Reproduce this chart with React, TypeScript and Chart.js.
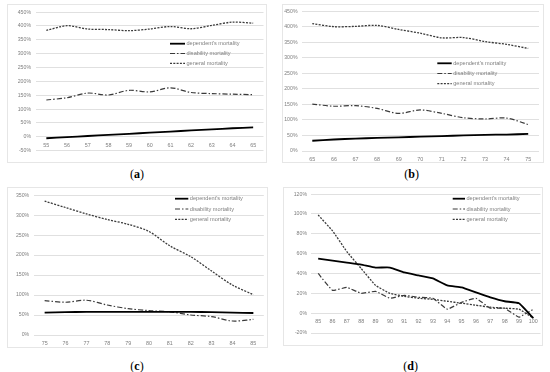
import React, { useEffect, useRef } from "react";
import { Chart, registerables } from "chart.js";

Chart.register(...registerables);

// ---- data ----
const agesA = ["55", "56", "57", "58", "59", "60", "61", "62", "63", "64", "65"];
const depA = [-5, -1, 3, 7, 11, 15, 19, 23, 27, 31, 34];
const disA = [133, 141, 158, 151, 168, 162, 177, 160, 156, 154, 152];
const genA = [384, 401, 389, 387, 383, 389, 398, 390, 402, 414, 410];

const agesB = ["65", "66", "67", "68", "69", "70", "71", "72", "73", "74", "75"];
const depB = [33, 37, 40, 42, 44, 46, 48, 50, 52, 53, 55];
const disB = [151, 144, 146, 137, 121, 132, 121, 107, 103, 106, 85];
const genB = [410, 400, 401, 404, 391, 379, 364, 365, 352, 343, 330];

const agesC = ["75", "76", "77", "78", "79", "80", "81", "82", "83", "84", "85"];
const depC = [56, 57, 58, 58, 58, 58, 58, 58, 57, 56, 55];
const disC = [86, 82, 87, 75, 66, 61, 58, 50, 46, 35, 39];
const genC = [335, 319, 303, 289, 277, 259, 223, 196, 160, 125, 101];

const agesD = ["85", "86", "87", "88", "89", "90", "91", "92", "93", "94", "95", "96", "97", "98", "99", "100"];
const depD = [55, 53, 51, 49, 46, 46, 41, 38, 35, 28, 26, 21, 16, 12, 10, -5];
const disD = [40, 23, 26, 20, 22, 15, 18, 16, 15, 4, 11, 15, 5, 5, -4, 4];
const genD = [99, 83, 62, 45, 28, 20, 17, 15, 14, 12, 10, 8, 6, 5, 4, -5];

const seriesNames = ["dependent's mortality", "disability mortality", "general mortality"];

const yRangeA = [-50, 450, 50];
const yRangeB = [0, 450, 50];
const yRangeC = [0, 350, 50];
const yRangeD = [-20, 120, 20];

const FONT = "Liberation Sans";
const TICK_COLOR = "#7f7f7f";
const GRID_COLOR = "#e0e0e0";

const insideLegend = {
  id: "insideLegend",
  afterDraw(chart: any, _args: any, opts: any) {
    const ctx = chart.ctx;
    chart.data.datasets.forEach((ds: any, i: number) => {
      const y = opts.y + i * opts.gap;
      ctx.save();
      ctx.strokeStyle = ds.borderColor;
      ctx.lineWidth = ds.borderWidth;
      ctx.setLineDash(ds.borderDash || []);
      ctx.beginPath();
      ctx.moveTo(opts.x, y);
      ctx.lineTo(opts.x + opts.len, y);
      ctx.stroke();
      ctx.setLineDash([]);
      ctx.fillStyle = TICK_COLOR;
      ctx.font = `5.6px "${FONT}"`;
      ctx.textBaseline = "middle";
      ctx.textAlign = "left";
      ctx.fillText(ds.label, opts.x + opts.len + 1.5, y);
      ctx.restore();
    });
  },
};

type PanelProps = {
  box: { x: number; y: number; w: number; h: number };
  plot: { l: number; r: number; t: number; b: number };
  labels: string[];
  dep: number[];
  dis: number[];
  gen: number[];
  yRange: number[];
  legend: { x: number; y: number; len: number; gap: number };
  tension: number;
  yPad: number;
};

function Panel(p: PanelProps) {
  const ref = useRef<HTMLCanvasElement>(null);
  useEffect(() => {
    if (!ref.current) return;
    const chart = new Chart(ref.current, {
      type: "line",
      data: {
        labels: p.labels,
        datasets: [
          {
            label: seriesNames[0],
            data: p.dep,
            borderColor: "#000000",
            borderWidth: 1.8,
            pointRadius: 0,
            tension: p.tension,
          },
          {
            label: seriesNames[1],
            data: p.dis,
            borderColor: "#3a3a3a",
            borderWidth: 1.2,
            borderDash: [5, 2, 1.5, 2],
            pointRadius: 0,
            tension: p.tension,
          },
          {
            label: seriesNames[2],
            data: p.gen,
            borderColor: "#3a3a3a",
            borderWidth: 1.3,
            borderDash: [2, 1.3],
            pointRadius: 0,
            tension: p.tension,
          },
        ],
      },
      options: {
        responsive: false,
        animation: false,
        devicePixelRatio: 1,
        layout: {
          padding: {
            left: 0,
            top: p.plot.t,
            right: p.box.w - p.plot.r,
            bottom: p.box.h - p.plot.b,
          },
        },
        plugins: {
          legend: { display: false },
          tooltip: { enabled: false },
          insideLegend: p.legend,
        } as any,
        scales: {
          x: {
            type: "category",
            offset: true,
            position: { y: 0 } as any,
            grid: { display: false, drawTicks: false },
            border: { display: false },
            ticks: {
              color: TICK_COLOR,
              font: { family: FONT, size: 5.4 },
              padding: 5,
              maxRotation: 0,
              autoSkip: false,
            },
          },
          y: {
            min: p.yRange[0],
            max: p.yRange[1],
            grid: { color: GRID_COLOR, drawTicks: false, lineWidth: 1 },
            border: { display: false },
            ticks: {
              stepSize: p.yRange[2],
              color: TICK_COLOR,
              font: { family: FONT, size: 5.2 },
              padding: p.yPad,
              callback: (v: any) => `${v}%`,
            },
            afterFit: (s: any) => {
              s.width = p.plot.l;
            },
          },
        },
      },
      plugins: [insideLegend as any],
    });
    return () => chart.destroy();
  }, []);
  return (
    <>
      <div
        style={{
          position: "absolute",
          left: p.box.x,
          top: p.box.y,
          width: p.box.w,
          height: p.box.h,
          border: "1px solid #e6e6e6",
          boxSizing: "border-box",
        }}
      />
      <canvas
        ref={ref}
        width={p.box.w}
        height={p.box.h}
        style={{ position: "absolute", left: p.box.x, top: p.box.y, width: p.box.w, height: p.box.h }}
      />
    </>
  );
}

function Caption({ x, y, letter }: { x: number; y: number; letter: string }) {
  return (
    <div
      style={{
        position: "absolute",
        left: x,
        top: y,
        transform: "translate(-50%, -50%)",
        fontFamily: "'Liberation Serif', serif",
        fontSize: 12,
        color: "#000",
        whiteSpace: "nowrap",
      }}
    >
      (<b>{letter}</b>)
    </div>
  );
}

export default function App() {
  return (
    <div style={{ position: "absolute", left: 0, top: 0, width: 550, height: 372, background: "#fff", overflow: "hidden" }}>
      <Panel
        box={{ x: 7, y: 4, w: 260, h: 159 }}
        plot={{ l: 29, r: 256.5, t: 7.7, b: 146.7 }}
        labels={agesA}
        dep={depA}
        dis={disA}
        gen={genA}
        yRange={yRangeA}
        legend={{ x: 163, y: 39.7, len: 15, gap: 9.8 }}
        tension={0.3}
        yPad={5}
      />
      <Panel
        box={{ x: 282, y: 4, w: 262, h: 159 }}
        plot={{ l: 19.5, r: 257, t: 7, b: 147 }}
        labels={agesB}
        dep={depB}
        dis={disB}
        gen={genB}
        yRange={yRangeB}
        legend={{ x: 155.3, y: 59.3, len: 14.4, gap: 10.2 }}
        tension={0.3}
        yPad={4}
      />
      <Panel
        box={{ x: 7, y: 187, w: 261, h: 161 }}
        plot={{ l: 27.2, r: 256.8, t: 7.3, b: 148 }}
        labels={agesC}
        dep={depC}
        dis={disC}
        gen={genC}
        yRange={yRangeC}
        legend={{ x: 168, y: 11.7, len: 13.3, gap: 10.3 }}
        tension={0.3}
        yPad={5}
      />
      <Panel
        box={{ x: 283, y: 187, w: 260, h: 159 }}
        plot={{ l: 28, r: 257.5, t: 5.7, b: 146 }}
        labels={agesD}
        dep={depD}
        dis={disD}
        gen={genD}
        yRange={yRangeD}
        legend={{ x: 169.7, y: 11.7, len: 12.3, gap: 10.3 }}
        tension={0.1}
        yPad={4}
      />
      <Caption x={137} y={174} letter="a" />
      <Caption x={411.7} y={174} letter="b" />
      <Caption x={137} y={366} letter="c" />
      <Caption x={410.7} y={366} letter="d" />
    </div>
  );
}
